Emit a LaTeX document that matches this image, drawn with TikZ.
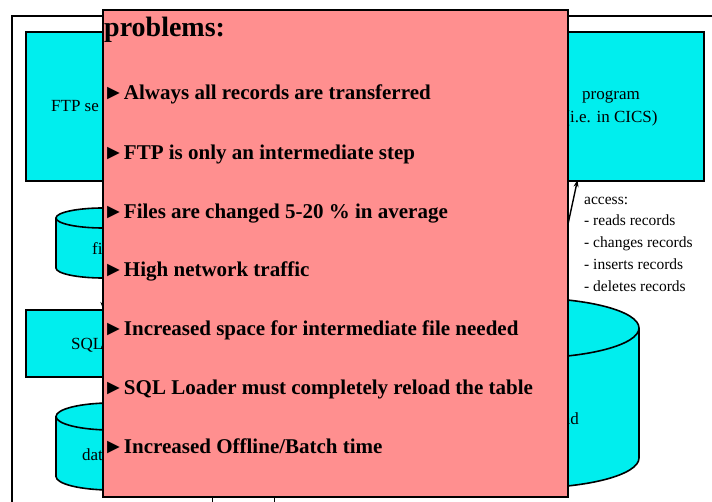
\documentclass[tikz,border=0pt]{standalone}
\usepackage{fontspec}
\setmainfont{Liberation Serif}
\usetikzlibrary{arrows.meta}
\definecolor{boxcyan}{RGB}{0,238,238}
\definecolor{probpink}{RGB}{255,143,143}
\newcommand\drawcyl[5]{%
  \fill[boxcyan] ({#1-#4},#2) -- ({#1-#4},#3) arc[start angle=180,end angle=0,x radius=#4,y radius=#5]
     -- ({#1+#4},#2) arc[start angle=0,end angle=-180,x radius=#4,y radius=#5] -- cycle;
  \draw[line width=1.6pt] ({#1-#4},#2) -- ({#1-#4},#3) arc[start angle=180,end angle=0,x radius=#4,y radius=#5]
     -- ({#1+#4},#2);
  \draw[line width=1.6pt] (#1,#2) ellipse[x radius=#4,y radius=#5];
}
\tikzset{
  cyanbox/.style={draw,line width=1.6pt,fill=boxcyan},
  lbl/.style={inner sep=0pt,font=\fontsize{17}{20}\selectfont},
  acc/.style={inner sep=0pt,anchor=base west,font=\fontsize{15.5}{18}\selectfont},
  prob/.style={inner sep=0pt,anchor=base west,font=\fontsize{21}{24}\selectfont\bfseries},
  conn/.style={line width=1.4pt,-{Stealth[length=7pt,width=5pt]}}
}
\begin{document}
\begin{tikzpicture}[x=1pt,y=-1pt]
\useasboundingbox (0,0) rectangle (712,502);
\clip (0,0) rectangle (712,502);
\fill[white] (0,0) rectangle (712,502);
% outer frame
\draw[line width=1.8pt] (12,560) -- (12,16) -- (760,16);
% boxes
\node[cyanbox,minimum width=127pt,minimum height=149pt,anchor=north west] (ftp) at (25,31) {};
\node[lbl,anchor=base west] (ftpt) at (51,112) {FTP se};
\node[cyanbox,minimum width=184pt,minimum height=149pt,anchor=north west] (prog) at (519,31) {};
\node[lbl,anchor=base] (prog1) at (611,100) {program};
\node[lbl,anchor=base] (prog2) at (611,123) {(i.e. in CICS)};
\node[cyanbox,minimum width=176pt,minimum height=67pt,anchor=north west] (sql) at (25,309) {};
\node[lbl,anchor=base west] (sqlt) at (71,350) {SQL};
% cylinders
\drawcyl{103}{218}{268}{47}{10}
\node[lbl,anchor=base west] (filet) at (92,255) {fi};
\drawcyl{111}{416.5}{476.5}{55}{13.5}
\node[lbl,anchor=base west] (dbt) at (82,460) {dat};
\drawcyl{527}{328}{458}{112}{30}
\node[lbl,anchor=base east] (bigt) at (579,424) {nd};
% hidden connectors
\coordinate (ftpout) at (110,180);
\coordinate (filein) at (103,208);
\draw[conn] (ftpout) -- (filein);
\coordinate (fileout) at (103,278);
\coordinate (sqlin) at (103,309);
\draw[conn] (fileout) -- (sqlin);
\coordinate (accstart) at (562,252);
\coordinate (progin) at (577.5,180);
\draw[conn] (accstart) -- (progin);
% bottom box
\node[draw,line width=1.2pt,minimum width=62pt,minimum height=60pt,anchor=north west] (bottom) at (212,490) {};
% access text
\node[acc] (a0) at (584,205) {access:};
\node[acc] (a1) at (584,226) {- reads records};
\node[acc] (a2) at (584,248) {- changes records};
\node[acc] (a3) at (584,270) {- inserts records};
\node[acc] (a4) at (584,292) {- deletes records};
% problems box
\node[draw,line width=1.8pt,fill=probpink,minimum width=465pt,minimum height=487pt,anchor=north west] (probs) at (102,9) {};
\node[inner sep=0pt,anchor=base west,font=\fontsize{28}{32}\selectfont\bfseries] (ptitle) at (104,37) {problems:};
\node[prob] (p1) at (103,100) {►Always all records are transferred};
\node[prob] (p2) at (103,160) {►FTP is only an intermediate step};
\node[prob] (p3) at (103,219) {►Files are changed 5-20 \% in average};
\node[prob] (p4) at (103,277) {►High network traffic};
\node[prob] (p5) at (103,336) {►Increased space for intermediate file needed};
\node[prob] (p6) at (103,395) {►SQL Loader must completely reload the table};
\node[prob] (p7) at (103,453) {►Increased Offline/Batch time};
\end{tikzpicture}
\end{document}
